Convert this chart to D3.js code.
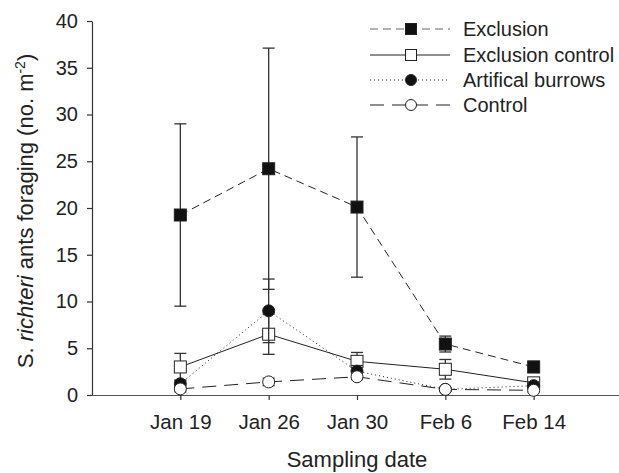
<!DOCTYPE html>
<html>
<head>
<meta charset="utf-8">
<script src="https://cdn.jsdelivr.net/npm/d3@7"></script>
<style>
  body { margin: 0; background: #fff; }
  text { font-family: "Liberation Sans", Arial, sans-serif; fill: #222; }
</style>
</head>
<body>
<script>
'use strict';

// sampling dates (x categories)
const dates = ["Jan 19", "Jan 26", "Jan 30", "Feb 6", "Feb 14"];
const yTicks = [0, 5, 10, 15, 20, 25, 30, 35, 40];

// means and standard errors
const exclusion = [19.25, 24.2, 20.1, 5.45, 3.0];
const exclusionErr = [9.75, 12.9, 7.5, 0.85, 0.6];
const exclusionControl = [3.0, 6.5, 3.6, 2.75, 1.3];
const exclusionControlErr = [1.45, 2.15, 0.95, 1.05, 0.5];
const artificalBurrows = [1.2, 9.0, 2.55, 0.6, 1.0];
const artificalBurrowsErr = [0.4, 3.4, 0.6, 0.2, 0.4];
const control = [0.65, 1.4, 1.95, 0.6, 0.5];
const controlErr = [0.3, 0.4, 0.3, 0.2, 0.2];

const seriesNames = ["Exclusion", "Exclusion control", "Artifical burrows", "Control"];

(function() {
  const width = 619, height = 473;
  const left = 92, bottom = 395, top = 21;

  let svg = d3.select('body').append('svg')
    .attr('width', width)
    .attr('height', height);

  // build series list from the arrays
  let series = [
    {name: seriesNames[0], values: exclusion, err: exclusionErr, dash: "8,5", shape: "square", fill: "#111"},
    {name: seriesNames[1], values: exclusionControl, err: exclusionControlErr, dash: null, shape: "square", fill: "#fff"},
    {name: seriesNames[2], values: artificalBurrows, err: artificalBurrowsErr, dash: "1,3", shape: "circle", fill: "#111"},
    {name: seriesNames[3], values: control, err: controlErr, dash: "14,8", shape: "circle", fill: "#fff"}
  ];

  let xScale = d3.scalePoint()
    .domain(dates)
    .range([left, 622])
    .padding(1);

  let yScale = d3.scaleLinear()
    .domain([0, 40])
    .range([bottom, top]);

  // y axis
  let yAxis = svg.append('g')
    .attr('transform', 'translate(' + left + ',0)')
    .call(d3.axisLeft(yScale).tickValues(yTicks).tickSize(5).tickPadding(9).tickSizeOuter(0));
  yAxis.select('.domain').attr('stroke', '#333');
  yAxis.selectAll('.tick line').attr('stroke', '#333');
  yAxis.selectAll('.tick text').style('font-size', '20px').attr('fill', '#222');

  // x axis
  let xAxis = svg.append('g')
    .attr('transform', 'translate(0,' + bottom + ')')
    .call(d3.axisBottom(xScale).tickSize(5).tickPadding(14).tickSizeOuter(0));
  xAxis.select('.domain').attr('stroke', '#555').attr('d', 'M' + left + ',0.5H' + width);
  xAxis.selectAll('.tick line').attr('stroke', '#333');
  xAxis.selectAll('.tick text').style('font-size', '20.5px').attr('fill', '#222');
  svg.selectAll('.domain, .tick line').attr('stroke-width', 1.2);
  svg.selectAll('.tick text').attr('font-family', null);

  // axis labels
  svg.append('text')
    .attr('x', 357)
    .attr('y', 467)
    .attr('text-anchor', 'middle')
    .style('font-size', '22px')
    .text('Sampling date');

  let yLabel = svg.append('text')
    .attr('transform', 'translate(33, 211)rotate(-90)')
    .attr('text-anchor', 'middle')
    .style('font-size', '22px');
  yLabel.append('tspan').text('S. ');
  yLabel.append('tspan').style('font-style', 'italic').text('richteri');
  yLabel.append('tspan').text(' ants foraging (no. m');
  yLabel.append('tspan').attr('dy', -8).style('font-size', '14px').text('-2');
  yLabel.append('tspan').attr('dy', 8).text(')');

  let line = d3.line()
    .x((d, i) => xScale(dates[i]))
    .y((d) => yScale(d));

  function drawMarker(g, shape, fill, cx, cy, size) {
    if (shape == "square") {
      g.append('rect')
        .attr('x', cx - size / 2)
        .attr('y', cy - size / 2)
        .attr('width', size)
        .attr('height', size)
        .attr('fill', fill)
        .attr('stroke', '#222')
        .attr('stroke-width', 1);
    } else {
      g.append('circle')
        .attr('cx', cx)
        .attr('cy', cy)
        .attr('r', size / 2)
        .attr('fill', fill)
        .attr('stroke', '#222')
        .attr('stroke-width', 1);
    }
  }

  // error bars, lines and markers for each series
  series.forEach((s) => {
    let g = svg.append('g');

    s.values.forEach((v, i) => {
      let x = xScale(dates[i]);
      let y1 = yScale(v + s.err[i]);
      let y0 = yScale(Math.max(0, v - s.err[i]));
      g.append('line')
        .attr('x1', x).attr('x2', x)
        .attr('y1', y1).attr('y2', y0)
        .attr('stroke', '#333').attr('stroke-width', 1.3);
      [y1, y0].forEach((yy) => {
        g.append('line')
          .attr('x1', x - 6).attr('x2', x + 6)
          .attr('y1', yy).attr('y2', yy)
          .attr('stroke', '#333').attr('stroke-width', 1.3);
      });
    });

    g.append('path')
      .datum(s.values)
      .attr('fill', 'none')
      .attr('stroke', '#222')
      .attr('stroke-width', 1)
      .attr('stroke-dasharray', s.dash)
      .attr('d', line);

    s.values.forEach((v, i) => {
      drawMarker(g, s.shape, s.fill, xScale(dates[i]), yScale(v), 12);
    });
  });

  // legend
  let legend = svg.append('g');
  let legendY = [29, 55, 80, 105];
  series.forEach((s, i) => {
    let y = legendY[i];
    legend.append('line')
      .attr('x1', 370).attr('x2', 450)
      .attr('y1', y).attr('y2', y)
      .attr('stroke', s.dash == "8,5" ? '#666' : '#222')
      .attr('stroke-width', 1)
      .attr('stroke-dasharray', s.dash);
    drawMarker(legend, s.shape, s.fill, 411, y, 11);
    legend.append('text')
      .attr('x', 463)
      .attr('y', y + 7)
      .style('font-size', '20px')
      .text(s.name);
  });
})();
</script>
</body>
</html>
